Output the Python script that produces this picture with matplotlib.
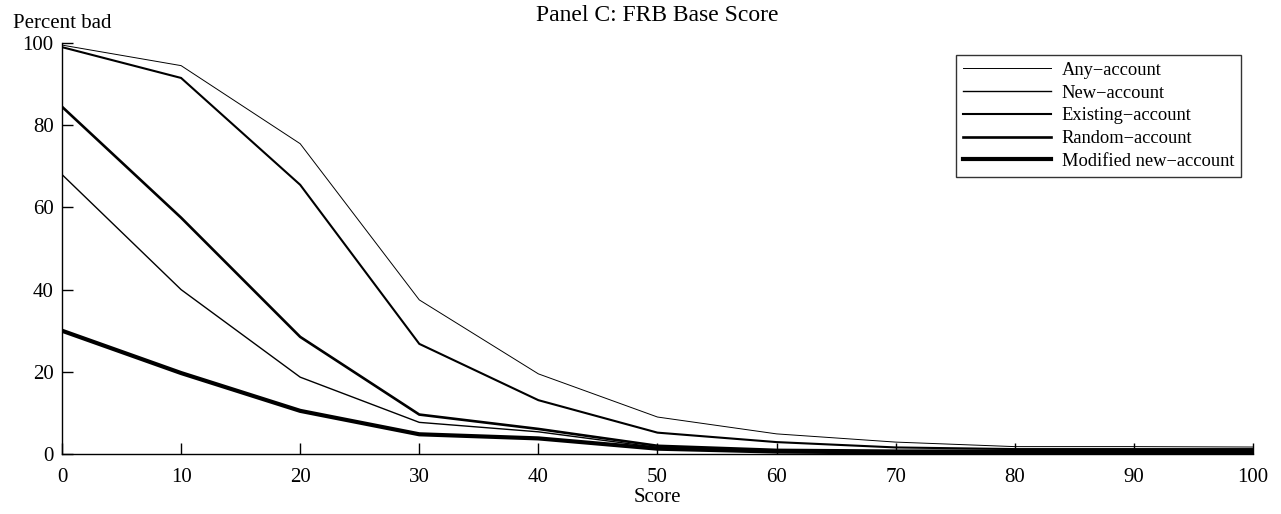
import matplotlib
matplotlib.use("Agg")
import matplotlib.pyplot as plt

plt.rcParams['font.family'] = ['Liberation Serif', 'DejaVu Serif']

score = [0, 10, 20, 30, 40, 50, 60, 70, 80, 90, 100]

# percent bad by score band
any_account = [99.5, 94.5, 75.5, 37.5, 19.5, 9.0, 4.9, 2.9, 1.8, 1.8, 1.7]
new_account = [68.0, 40.0, 18.7, 7.7, 5.4, 1.6, 0.8, 0.6, 0.6, 0.5, 0.6]
existing_account = [99.0, 91.5, 65.5, 26.8, 13.1, 5.2, 2.9, 1.6, 1.2, 1.2, 1.2]
random_account = [84.5, 57.5, 28.5, 9.6, 6.1, 2.0, 1.0, 0.8, 0.8, 0.7, 0.8]
modified_new = [30.0, 19.7, 10.5, 4.8, 3.8, 1.3, 0.6, 0.4, 0.4, 0.3, 0.4]

names = ['Any\u2212account', 'New\u2212account', 'Existing\u2212account',
         'Random\u2212account', 'Modified new\u2212account']
series = [any_account, new_account, existing_account, random_account, modified_new]
widths = [0.7, 1.0, 1.5, 1.9, 3.0]

fig = plt.figure(figsize=(12.81, 5.14), dpi=100)
ax = fig.add_axes([0.0484, 0.1167, 0.9297, 0.7996])

for name, vals, lw in zip(names, series, widths):
    ax.plot(score, vals, color='black', lw=lw, label=name, solid_joinstyle='miter')

ax.set_xlim(0, 100)
ax.set_ylim(0, 100)
ax.set_xticks(range(0, 101, 10))
ax.set_yticks(range(0, 101, 20))
ax.spines['top'].set_visible(False)
ax.spines['right'].set_visible(False)
for s in ['left', 'bottom']:
    ax.spines[s].set_linewidth(1.0)
ax.tick_params(direction='in', length=8, width=1.0, labelsize=15)
ax.tick_params(axis='x', pad=10)
ax.tick_params(axis='y', pad=6)

ax.set_xlabel('Score', fontsize=15, labelpad=1)
ax.text(0.0, 1.025, 'Percent bad', transform=ax.transAxes, fontsize=15,
        ha='center', va='bottom')
fig.text(0.513, 0.99, 'Panel C: FRB Base Score', fontsize=17, ha='center', va='top')

leg = ax.legend(loc='upper right', bbox_to_anchor=(0.99, 0.971), borderaxespad=0,
                fontsize=13.3, frameon=True, fancybox=False, edgecolor='black',
                handlelength=4.8, labelspacing=0.31, borderpad=0.38,
                handletextpad=0.55)
leg.get_frame().set_linewidth(1.0)

fig.savefig('out.png', dpi=100)
